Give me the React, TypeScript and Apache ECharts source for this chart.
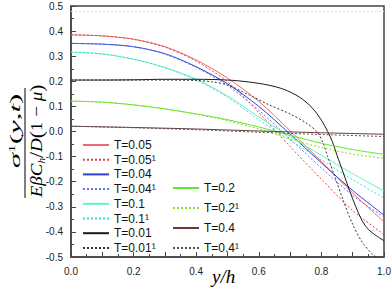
import React, { useEffect, useRef } from 'react';
import * as echarts from 'echarts';

// ---- data ----
const seriesNames = [
  'T=0.05', 'T=0.05¹', 'T=0.04', 'T=0.04¹', 'T=0.1', 'T=0.1¹', 'T=0.01', 'T=0.01¹',
  'T=0.2', 'T=0.2¹', 'T=0.4', 'T=0.4¹',
];

const t005 = [[0, 0.385], [0.1, 0.381], [0.2, 0.368], [0.3, 0.338], [0.4, 0.285], [0.5, 0.213], [0.6, 0.12], [0.7, 0.003], [0.8, -0.12], [0.9, -0.245], [1.0, -0.36]];
const t005b = [[0, 0.385], [0.1, 0.381], [0.2, 0.367], [0.3, 0.336], [0.4, 0.28], [0.5, 0.198], [0.6, 0.075], [0.7, -0.06], [0.8, -0.19], [0.9, -0.315], [1.0, -0.41]];
const t004 = [[0, 0.351], [0.1, 0.348], [0.2, 0.338], [0.3, 0.31], [0.4, 0.258], [0.5, 0.19], [0.6, 0.1], [0.7, -0.01], [0.8, -0.125], [0.9, -0.235], [1.0, -0.333]];
const t004b = [[0, 0.351], [0.1, 0.348], [0.2, 0.337], [0.3, 0.308], [0.4, 0.255], [0.5, 0.183], [0.6, 0.085], [0.7, -0.03], [0.8, -0.145], [0.9, -0.255], [1.0, -0.341]];
const t01 = [[0, 0.316], [0.1, 0.309], [0.2, 0.288], [0.3, 0.255], [0.4, 0.208], [0.5, 0.142], [0.6, 0.058], [0.7, -0.02], [0.8, -0.095], [0.9, -0.168], [1.0, -0.237]];
const t01b = [[0, 0.316], [0.1, 0.309], [0.2, 0.288], [0.3, 0.254], [0.4, 0.205], [0.5, 0.136], [0.6, 0.047], [0.7, -0.035], [0.8, -0.113], [0.9, -0.192], [1.0, -0.265]];
const t001 = [[0, 0.205], [0.1, 0.205], [0.2, 0.206], [0.3, 0.208], [0.4, 0.208], [0.5, 0.205], [0.57, 0.197], [0.63, 0.185], [0.68, 0.168], [0.73, 0.137], [0.77, 0.095], [0.8, 0.045], [0.82, 0.0], [0.835, -0.04], [0.85, -0.095], [0.87, -0.165], [0.89, -0.235], [0.91, -0.3], [0.93, -0.355], [0.95, -0.39], [0.975, -0.415], [1.0, -0.435]];
const t001b = [[0, 0.205], [0.1, 0.205], [0.2, 0.205], [0.3, 0.205], [0.4, 0.203], [0.45, 0.198], [0.5, 0.185], [0.57, 0.145], [0.63, 0.108], [0.7, 0.07], [0.75, 0.035], [0.785, 0.0], [0.805, -0.045], [0.82, -0.1], [0.84, -0.17], [0.87, -0.275], [0.9, -0.37], [0.93, -0.44], [0.96, -0.485], [0.98, -0.505], [1.0, -0.525]];
const t02 = [[0, 0.121], [0.1, 0.117], [0.2, 0.106], [0.3, 0.09], [0.4, 0.07], [0.5, 0.047], [0.6, 0.018], [0.7, -0.015], [0.8, -0.047], [0.9, -0.072], [1.0, -0.091]];
const t02b = [[0, 0.121], [0.1, 0.117], [0.2, 0.106], [0.3, 0.09], [0.4, 0.069], [0.5, 0.043], [0.6, 0.01], [0.7, -0.03], [0.8, -0.064], [0.9, -0.09], [1.0, -0.107]];
const t04 = [[0, 0.021], [0.2, 0.016], [0.4, 0.01], [0.6, 0.002], [0.8, -0.005], [1.0, -0.011]];
const t04b = [[0, 0.021], [0.2, 0.015], [0.4, 0.007], [0.6, -0.003], [0.8, -0.012], [1.0, -0.02]];

const seriesData = [t005, t005b, t004, t004b, t01, t01b, t001, t001b, t02, t02b, t04, t04b];
const topRefLine = 0.477;

// ---- styles ----
const DOT = [2, 2];
const lineStyles = [
  { color: '#f06a6a', type: 'solid' },
  { color: '#e04848', type: DOT },
  { color: '#2f3fd8', type: 'solid' },
  { color: '#6070f0', type: DOT },
  { color: '#62f2c6', type: 'solid' },
  { color: '#3fdede', type: DOT },
  { color: '#1a1a1a', type: 'solid' },
  { color: '#333333', type: DOT },
  { color: '#5ee832', type: 'solid' },
  { color: '#86e020', type: DOT },
  { color: '#6b3a3a', type: 'solid' },
  { color: '#555555', type: DOT },
];
const legendPos = [
  [82, 145], [82, 159.7], [82, 174.4], [82, 189.1], [82, 203.8], [82, 218.5], [82, 233.2], [82, 248],
  [172, 188], [172, 208], [172, 228], [172, 248],
];

const SERIF = "'Liberation Serif', 'DejaVu Serif', serif";
const SANS = "'Liberation Sans', Arial, sans-serif";

export default function App() {
  const ref = useRef<HTMLDivElement>(null);
  useEffect(() => {
    const chart = echarts.init(ref.current as HTMLDivElement, null, { renderer: 'svg' });
    const italic = { fontFamily: SERIF, fontStyle: 'italic', fill: '#000' };
    const upright = { fontFamily: SERIF, fontStyle: 'normal', fill: '#000' };
    const center = { align: 'center', verticalAlign: 'middle', textAlign: 'center', textVerticalAlign: 'middle' };
    const option: any = {
      animation: false,
      backgroundColor: '#fff',
      grid: {
        left: 71, right: 8, top: 6, bottom: 30, containLabel: false, outerBoundsMode: 'none',
        show: true, borderColor: '#444', borderWidth: 1.5, backgroundColor: 'transparent',
      },
      xAxis: {
        type: 'value', min: 0, max: 1, interval: 0.1,
        axisLine: { onZero: false, lineStyle: { color: '#444', width: 1.5 } },
        axisTick: { inside: true, length: 5, lineStyle: { color: '#444' } },
        minorTick: { show: true, splitNumber: 2, length: 3, lineStyle: { color: '#444' } },
        splitLine: { show: false },
        axisLabel: {
          margin: 9, fontSize: 10, fontFamily: SANS, color: '#222',
          formatter: (v: number) => { const k = Math.round(v * 10); return k % 2 === 0 ? (k / 10).toFixed(1) : ''; },
        },
      },
      yAxis: {
        type: 'value', min: -0.5, max: 0.5, interval: 0.1,
        axisLine: { onZero: false, lineStyle: { color: '#444', width: 1.5 } },
        axisTick: { inside: true, length: 5, lineStyle: { color: '#444' } },
        minorTick: { show: true, splitNumber: 2, length: 3, lineStyle: { color: '#444' } },
        splitLine: { show: false },
        axisLabel: {
          margin: 8, fontSize: 10, fontFamily: SANS, color: '#222',
          formatter: (v: number) => (Math.abs(v) < 1e-9 ? '0.0' : v.toFixed(1)),
        },
      },
      legend: seriesNames.map((name, i) => ({
        data: [name], orient: 'vertical', align: 'left', left: legendPos[i][0], top: legendPos[i][1] - 7,
        itemWidth: 26, itemHeight: 14, padding: 0, selectedMode: false,
        itemStyle: { opacity: 0 },
        textStyle: { fontSize: 12, fontFamily: SANS, color: '#111', lineHeight: 14 },
      })),
      series: seriesNames.map((name, i) => ({
        type: 'line', name, data: seriesData[i], symbol: 'none', showSymbol: false, smooth: 0.3,
        lineStyle: { color: lineStyles[i].color, width: 1, type: lineStyles[i].type },
        itemStyle: { color: lineStyles[i].color },
        markLine: i === 0 ? {
          silent: true, symbol: 'none', label: { show: false },
          lineStyle: { color: '#dedede', type: DOT, width: 1 },
          data: [{ yAxis: topRefLine }],
        } : undefined,
      })),
      graphic: [
        {
          type: 'text', x: 15.5, y: 131, rotation: Math.PI / 2, scaleX: 2.2,
          style: {
            text: '{v|σ}{s|1}{n|(}{v|y}{n|,}{v|t}{n|)}', ...center,
            rich: {
              v: { ...italic, fontSize: 14 },
              n: { ...upright, fontSize: 14 },
              s: { ...upright, fontSize: 8, verticalAlign: 'top' },
            },
          },
        },
        { type: 'line', shape: { x1: 25, y1: 88, x2: 25, y2: 198 }, style: { stroke: '#000', lineWidth: 1 } },
        {
          type: 'text', x: 36.7, y: 141, rotation: Math.PI / 2, scaleX: 1.12,
          style: {
            text: '{v|Eβ}{v|C}{sub|h}{sl|/}{v|D}{p|(}{n|1 − }{v|μ}{p|)}', ...center,
            rich: {
              v: { ...italic, fontSize: 17 },
              n: { ...upright, fontSize: 17 },
              p: { ...upright, fontSize: 19 },
              sl: { ...upright, fontSize: 19 },
              sub: { ...italic, fontSize: 10, verticalAlign: 'bottom' },
            },
          },
        },
        {
          type: 'text', x: 212, y: 276,
          style: {
            text: 'y/h', font: `italic 19px ${SERIF}`, fill: '#000',
            align: 'left', verticalAlign: 'middle', textAlign: 'left', textVerticalAlign: 'middle',
          },
        },
      ],
    };
    chart.setOption(option);
    return () => chart.dispose();
  }, []);
  return <div ref={ref} style={{ position: 'fixed', left: 0, top: 0, width: 392, height: 287, background: '#fff' }} />;
}
